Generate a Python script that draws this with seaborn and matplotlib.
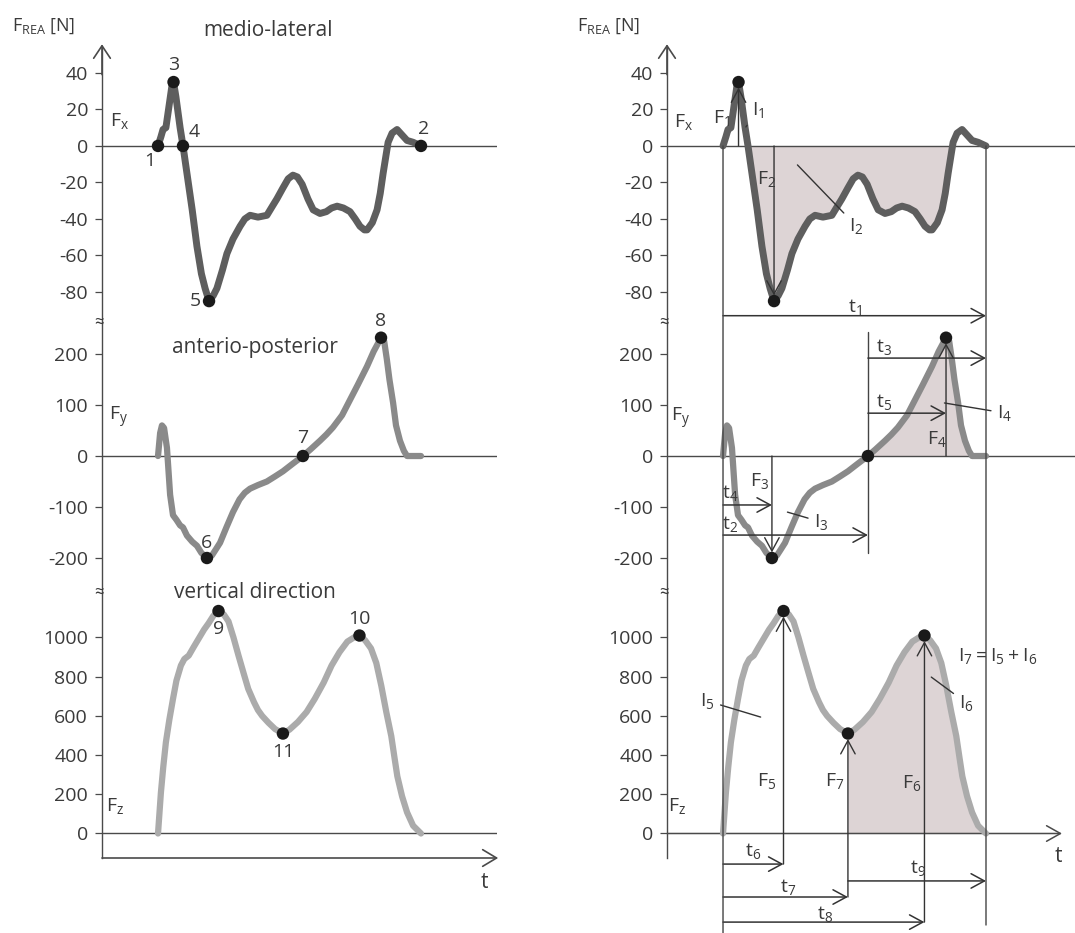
import numpy as np
import pandas as pd
import seaborn as sns
import matplotlib.pyplot as plt
from matplotlib.patches import ConnectionPatch

# ---------------- data (t in % of stance, force in N) ----------------
t_fx = [0, 1.1, 1.9, 3.0, 4.2, 5.3, 5.9, 6.8, 8.4, 9.5,
        11, 13, 14.8, 16.5, 17.9, 19.4, 21, 22.4, 24.5, 26.2,
        28.5, 31.2, 33, 35, 38, 41.4, 43.5, 45.2, 47.5, 49.5,
        51.3, 53, 54.8, 57, 59, 61.6, 64, 66, 68.1, 70.5,
        73, 75, 76.8, 78.5, 79.5, 81.5, 83.3, 84.5, 85.6, 86.6,
        87.5, 89, 90.9, 92.8, 94.7, 97, 100]
fx = [0, 5, 9, 10, 22, 33, 35, 27, 10, 0,
      -15, -35, -55, -70, -78, -85, -82, -78, -68, -59,
      -51, -44, -40, -38, -39, -38, -33, -29, -23, -18,
      -16, -17, -21, -29, -35, -37, -36, -34, -33, -34,
      -36, -40, -44, -46, -46, -42, -35, -26, -15, -6,
      2, 7, 9, 6, 3, 2, 0]

t_fy = [0, 0.8, 1.5, 2.3, 3.4, 4.6, 5.7, 7, 8.4, 9.5,
        11, 13, 14.8, 16.5, 18.6, 20.5, 22, 23.6, 26, 28.5,
        31, 33, 35, 38, 41.4, 44.5, 47.5, 51, 55.1, 58,
        61.6, 64, 66.5, 70, 73, 76, 79.5, 82, 84.8, 86,
        87, 88, 89.4, 90.5, 92, 93.5, 94.7, 97, 100]
fy = [0, 45, 60, 55, 16, -76, -116, -125, -136, -140,
      -156, -168, -176, -190, -200, -195, -183, -170, -140, -110,
      -85, -72, -64, -57, -50, -40, -30, -16, 0, 13,
      30, 42, 56, 80, 110, 140, 176, 205, 232, 225,
      190, 150, 104, 60, 30, 10, 0, 0, 0]

t_fz = [0, 1.1, 2, 3, 4.3, 5.7, 7, 8.7, 10, 11.7,
        13.5, 15.5, 17.5, 19.2, 21, 23, 25, 26.8, 28.7, 30.6,
        32.5, 34.3, 36.5, 38, 39.6, 42, 44.5, 47.5, 50, 53.2,
        56.5, 59.6, 63, 66, 69, 72, 74.5, 76.6, 78.8, 81,
        83, 84.9, 86.8, 88.7, 90, 91, 92.8, 94.7, 97, 100]
fz = [0, 209, 340, 466, 580, 687, 780, 857, 890, 908,
      950, 995, 1040, 1072, 1110, 1135, 1118, 1082, 1000, 908,
      820, 738, 670, 630, 600, 565, 533, 510, 530, 569,
      620, 687, 770, 857, 925, 979, 1000, 1010, 985, 944,
      870, 754, 620, 497, 380, 292, 190, 108, 40, 0]

yticks_fx = [40, 20, 0, -20, -40, -60, -80]
yticks_fy = [200, 100, 0, -100, -200]
yticks_fz = [1000, 800, 600, 400, 200, 0]
titles = ["medio-lateral", "anterio-posterior", "vertical direction"]
comp_labels = ["x", "y", "z"]

# ---------------- key events (derived from data) ----------------
t_fx_a, fx_a = np.array(t_fx), np.array(fx)
t_fy_a, fy_a = np.array(t_fy), np.array(fy)
t_fz_a, fz_a = np.array(t_fz), np.array(fz)
i3 = int(np.argmax(fx_a))
i4 = i3 + int(np.argmax(fx_a[i3:] <= 0))
i5 = int(np.argmin(fx_a))
i6 = int(np.argmin(fy_a))
i7 = i6 + int(np.argmax(fy_a[i6:] >= 0))
i8 = int(np.argmax(fy_a))
half = len(t_fz) // 2
i9 = int(np.argmax(fz_a[:half]))
i10 = half + int(np.argmax(fz_a[half:]))
i11 = i9 + int(np.argmin(fz_a[i9:i10]))

# ---------------- style ----------------
sns.set_theme(style="white")
plt.rcParams["font.family"] = ["Open Sans", "DejaVu Sans"]
plt.rcParams["axes.unicode_minus"] = False
plt.rcParams["mathtext.fontset"] = "custom"
plt.rcParams["mathtext.rm"] = "Open Sans"
plt.rcParams["mathtext.it"] = "Open Sans"
TXT = "#3a3a3a"
AX = "#4a4a4a"
FILL = "#ddd4d5"
C_FX, C_FY, C_FZ = "#5e5e5e", "#8a8a8a", "#ababab"

W, H = 1075, 933
fig = plt.figure(figsize=(W / 100, H / 100), dpi=100)
fig.patch.set_facecolor("white")


def rect(x0, x1, yt, yb):
    return [x0 / W, 1 - yb / H, (x1 - x0) / W, (yb - yt) / H]


def ftext(px, py, s, size=14, ha="left", va="center", **kw):
    fig.text(px / W, 1 - py / H, s, fontsize=size, ha=ha, va=va, color=TXT, **kw)


def sub(a, b):
    return r"$\mathregular{" + a + "_{" + b + "}}$"


XLIM = (-21.3, 128.9)
rows = [(47, 323, (-97.0, 54.2), yticks_fx),
        (323, 593, (-268.6, 260.8), yticks_fy),
        (593, 858, (-125, 1227), yticks_fz)]
cols = [102, 667]
series = [(t_fx, fx, C_FX, 5.0), (t_fy, fy, C_FY, 4.5), (t_fz, fz, C_FZ, 4.5)]

axes = [[None] * 3 for _ in cols]
for c, x0 in enumerate(cols):
    for r, (yt, yb, yl, ticks) in enumerate(rows):
        ax = fig.add_axes(rect(x0, x0 + 395, yt, yb))
        ax.set_xlim(XLIM)
        ax.set_ylim(yl)
        ax.patch.set_alpha(0)
        for s in ["top", "right", "bottom"]:
            ax.spines[s].set_visible(False)
        ax.spines["left"].set_color(AX)
        ax.spines["left"].set_linewidth(1.0)
        ax.set_xticks([])
        ax.set_yticks(ticks)
        ax.set_yticklabels([str(v) for v in ticks])
        ax.tick_params(axis="y", left=True, length=5, width=0.9, color=AX,
                       pad=5, labelsize=14, labelcolor=TXT)
        tx, vy, col, lw = series[r]
        sns.lineplot(x=tx, y=vy, ax=ax, color=col, linewidth=lw, sort=False,
                     estimator=None, zorder=3, solid_capstyle="round")
        ax.set_xlabel("")
        ax.set_ylabel("")
        if c == 0:
            ax.axhline(0, color=AX, lw=1.0, zorder=2)
        else:
            if r < 2:
                ax.axhline(0, xmin=0, xmax=1.033, color=AX, lw=1.0, zorder=2, clip_on=False)
            else:
                ax.annotate("", xy=(1.0, 0), xytext=(0, 0),
                            xycoords=("axes fraction", "data"),
                            arrowprops=dict(arrowstyle="->,head_length=0.5,head_width=0.28",
                                            color=AX, lw=1.1, shrinkA=0, shrinkB=0,
                                            mutation_scale=20), zorder=2)
        axes[c][r] = ax

    # y-axis arrow on top
    axes[c][0].annotate("", xy=(0, 1.01), xytext=(0, 0.9), xycoords="axes fraction",
                        arrowprops=dict(arrowstyle="->,head_length=0.45,head_width=0.3",
                                        color=AX, lw=1.2, shrinkA=0, shrinkB=0,
                                        mutation_scale=20))
    # break marks
    for yb in (323, 593):
        ftext(x0 - 3, yb, "≈", size=12, ha="center", va="center")

# left column bottom t-axis
axL3 = axes[0][2]
axL3.annotate("", xy=(1.003, 0), xytext=(0, 0), xycoords="axes fraction",
              arrowprops=dict(arrowstyle="->,head_length=0.5,head_width=0.3",
                              color=AX, lw=1.2, shrinkA=0, shrinkB=0, mutation_scale=20))

# ---------------- left column: dots & numbers ----------------
axL = axes[0]
left_pts = [
    (axL[0], t_fx[0], fx[0], "1", (-6, -11)),
    (axL[0], t_fx[-1], fx[-1], "2", (2, 12)),
    (axL[0], t_fx[i3], fx[i3], "3", (0, 12)),
    (axL[0], t_fx[i4], fx[i4], "4", (8, 10)),
    (axL[0], t_fx[i5], fx[i5], "5", (-10, 0)),
    (axL[1], t_fy[i6], fy[i6], "6", (0, 11)),
    (axL[1], t_fy[i7], fy[i7], "7", (0, 13)),
    (axL[1], t_fy[i8], fy[i8], "8", (0, 12)),
    (axL[2], t_fz[i9], fz[i9], "9", (0, -13)),
    (axL[2], t_fz[i10], fz[i10], "10", (0, 12)),
    (axL[2], t_fz[i11], fz[i11], "11", (0, -13)),
]
for ax, tx, vy, lab, off in left_pts:
    sns.scatterplot(x=[tx], y=[vy], ax=ax, color="#1a1a1a", s=80, zorder=5,
                    edgecolor="none", legend=False)
    ax.annotate(lab, xy=(tx, vy), xytext=off, textcoords="offset points",
                ha="center", va="center", fontsize=14, color=TXT, annotation_clip=False)
    ax.set_xlabel(""); ax.set_ylabel("")

# left texts
ftext(12, 26, r"$\mathregular{F_{REA}}$ [N]", size=13)
ftext(268, 30, titles[0], size=15, ha="center")
ftext(255, 347, titles[1], size=15, ha="center")
ftext(255, 592, titles[2], size=15, ha="center")
ftext(110, 121, sub("F", comp_labels[0]), size=14)
ftext(109, 417, sub("F", comp_labels[1]), size=14)
ftext(106, 806, sub("F", comp_labels[2]), size=14)
ftext(484, 882, "t", size=15, ha="center")

# ---------------- right column ----------------
axR = axes[1]
# shaded impulse areas
axR[0].fill_between(t_fx_a, fx_a, 0, where=(fx_a <= 0) & (t_fx_a >= t_fx[i4]),
                    interpolate=True, color=FILL, zorder=1, lw=0)
axR[1].fill_between(t_fy_a, fy_a, 0, where=t_fy_a >= t_fy[i7],
                    interpolate=True, color=FILL, zorder=1, lw=0)
axR[2].fill_between(t_fz_a, fz_a, 0, where=t_fz_a >= t_fz[i11],
                    interpolate=True, color=FILL, zorder=1, lw=0)

right_dots = [(axR[0], t_fx[i3], fx[i3]), (axR[0], t_fx[i5], fx[i5]),
              (axR[1], t_fy[i6], fy[i6]), (axR[1], t_fy[i7], fy[i7]),
              (axR[1], t_fy[i8], fy[i8]),
              (axR[2], t_fz[i9], fz[i9]), (axR[2], t_fz[i11], fz[i11]),
              (axR[2], t_fz[i10], fz[i10])]
for ax, tx, vy in right_dots:
    sns.scatterplot(x=[tx], y=[vy], ax=ax, color="#1a1a1a", s=80, zorder=6,
                    edgecolor="none", legend=False)
    ax.set_xlabel(""); ax.set_ylabel("")

ARW = "->,head_length=0.48,head_width=0.26"


def varrow(ax, tx, y0, y1, shrink=4):
    ax.annotate("", xy=(tx, y1), xytext=(tx, y0),
                arrowprops=dict(arrowstyle=ARW, color="#333333", lw=1.0,
                                shrinkA=0, shrinkB=shrink, mutation_scale=20),
                annotation_clip=False, zorder=5)


def harrow(ax, t0, t1, y):
    ax.annotate("", xy=(t1, y), xytext=(t0, y),
                arrowprops=dict(arrowstyle=ARW, color="#333333", lw=1.1,
                                shrinkA=0, shrinkB=0, mutation_scale=20),
                annotation_clip=False, zorder=5)


def vline(ax_a, ya, ax_b, yb, tx):
    con = ConnectionPatch(xyA=(tx, ya), coordsA=ax_a.transData,
                          xyB=(tx, yb), coordsB=ax_b.transData,
                          color="#444444", lw=1.0, zorder=4)
    fig.add_artist(con)


t0, t_end = t_fx[0], t_fx[-1]
# long guide lines at start / end of contact
vline(axR[0], 0, axR[2], -508, t0)
vline(axR[0], 0, axR[2], -467, t_end)

# Fx annotations
varrow(axR[0], t_fx[i3], 0, fx[i3])
varrow(axR[0], t_fx[i5], 0, fx[i5])
harrow(axR[0], t0, t_end, -93)

# Fy annotations
varrow(axR[1], t_fy[i6], 0, fy[i6])
varrow(axR[1], t_fy[i8], 0, fy[i8])
axR[1].plot([t_fy[i7], t_fy[i7]], [243, -190], color="#444444", lw=1.0, zorder=4)
harrow(axR[1], t_fy[i7], t_end, 192)
harrow(axR[1], t_fy[i7], t_fy[i8], 84)
harrow(axR[1], t0, t_fy[i6], -96)
harrow(axR[1], t0, t_fy[i7], -155)

# Fz annotations
varrow(axR[2], t_fz[i9], -156, fz[i9])
varrow(axR[2], t_fz[i11], -324, fz[i11])
varrow(axR[2], t_fz[i10], -452, fz[i10])
harrow(axR[2], t0, t_fz[i9], -156)
harrow(axR[2], t_fz[i11], t_end, -242)
harrow(axR[2], t0, t_fz[i11], -324)
harrow(axR[2], t0, t_fz[i10], -452)


# leader lines for impulse labels
def leader(ax, xy, lab, px, py):
    ax.annotate(lab, xy=xy, xytext=(px, H - py), textcoords="figure pixels",
                fontsize=14, color=TXT, ha="left", va="center",
                arrowprops=dict(arrowstyle="-", color="#333333", lw=1.0,
                                shrinkA=2, shrinkB=0),
                annotation_clip=False, zorder=6)


leader(axR[0], (8.7, 10.4), sub("I", "1"), 752, 110)
leader(axR[0], (28.3, -10.4), sub("I", "2"), 849, 226)
leader(axR[1], (24.5, -110), sub("I", "3"), 814, 522)
leader(axR[1], (84.2, 104), sub("I", "4"), 997, 413)
leader(axR[2], (14.3, 594), sub("I", "5"), 700, 701)
leader(axR[2], (79.2, 798), sub("I", "6"), 959, 703)

# right texts
ftext(577, 26, r"$\mathregular{F_{REA}}$ [N]", size=13)
ftext(674, 122, sub("F", comp_labels[0]), size=14)
ftext(671, 418, sub("F", comp_labels[1]), size=14)
ftext(668, 806, sub("F", comp_labels[2]), size=14)
ftext(1058, 856, "t", size=15, ha="center")
ftext(713, 118, sub("F", "1"), size=14)
ftext(757, 179, sub("F", "2"), size=14)
ftext(855, 307, sub("t", "1"), size=14, ha="center")
ftext(876, 347, sub("t", "3"), size=14)
ftext(876, 402, sub("t", "5"), size=14)
ftext(927, 439, sub("F", "4"), size=14)
ftext(750, 481, sub("F", "3"), size=14)
ftext(722, 493, sub("t", "4"), size=14)
ftext(722, 524, sub("t", "2"), size=14)
ftext(958, 656, r"$\mathregular{I_7 = I_5 + I_6}$", size=14)
ftext(757, 781, sub("F", "5"), size=14)
ftext(825, 781, sub("F", "7"), size=14)
ftext(902, 783, sub("F", "6"), size=14)
ftext(745, 851, sub("t", "6"), size=14)
ftext(910, 868, sub("t", "9"), size=14)
ftext(780, 887, sub("t", "7"), size=14)
ftext(817, 914, sub("t", "8"), size=14)

fig.savefig("out.png", dpi=100, facecolor="white")
